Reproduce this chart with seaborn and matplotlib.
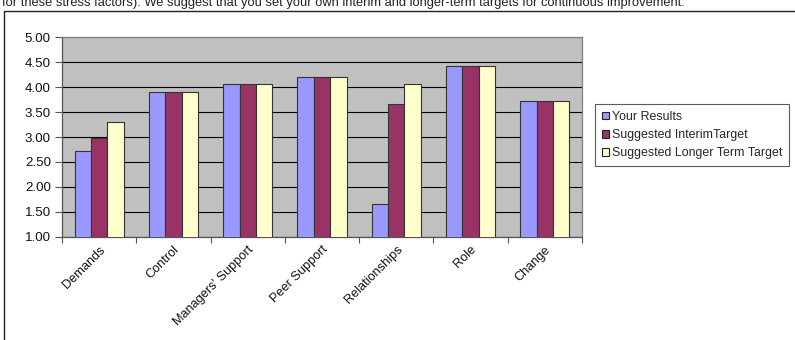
import matplotlib
matplotlib.use("Agg")
import matplotlib.pyplot as plt
from matplotlib.patches import Rectangle
from matplotlib.ticker import FormatStrFormatter, FixedLocator
import seaborn as sns
import pandas as pd

# Stress factor scores
categories = ["Demands", "Control", "Managers' Support", "Peer Support",
              "Relationships", "Role", "Change"]
your_results = [2.72, 3.90, 4.07, 4.20, 1.65, 4.43, 3.73]
interim_target = [2.98, 3.90, 4.07, 4.20, 3.66, 4.43, 3.73]
longer_term_target = [3.30, 3.90, 4.07, 4.20, 4.06, 4.43, 3.73]
series_names = ["Your Results", "Suggested InterimTarget",
                "Suggested Longer Term Target"]
colors = ["#9999FF", "#993366", "#FFFFCC"]
yticks = [1.0, 1.5, 2.0, 2.5, 3.0, 3.5, 4.0, 4.5, 5.0]

rows = []
for series, values in zip(series_names,
                          [your_results, interim_target, longer_term_target]):
    for cat, v in zip(categories, values):
        rows.append({"factor": cat, "score": v, "series": series})
df = pd.DataFrame(rows)

sns.set_theme(style="white")
plt.rcParams["font.family"] = ["Liberation Sans", "DejaVu Sans"]

fig = plt.figure(figsize=(7.95, 3.4), dpi=100)
fig.patch.set_facecolor("white")

# Frame around the chart object
fig.add_artist(Rectangle((4 / 795, -0.05), 1.1, (340 - 11) / 340 + 0.05,
                         transform=fig.transFigure, fill=False,
                         edgecolor="#222222", linewidth=1.0))

# Line of report text above the chart
fig.text(2 / 795, 1 - 6 / 340,
         "for these stress factors). We suggest that you set your own interim "
         "and longer-term targets for continuous improvement.",
         fontsize=9.3, color="#222222", ha="left", va="baseline")

ax = fig.add_axes([62 / 795, 1 - 236.7 / 340, 520 / 795, 199.4 / 340])
ax.set_facecolor("#C0C0C0")

sns.barplot(data=df, x="factor", y="score", hue="series", order=categories,
            hue_order=series_names, palette=colors, width=0.66, ax=ax,
            edgecolor="#333333", linewidth=0.8, saturation=1, zorder=3)

ax.set_ylim(1.0, 5.0)
ax.set_xlim(-0.5, len(categories) - 0.5)
ax.set_yticks(yticks)
ax.yaxis.set_major_formatter(FormatStrFormatter("%.2f"))
ax.yaxis.grid(True, color="black", linewidth=0.8, zorder=0)
ax.set_axisbelow(True)
ax.set_xlabel("")
ax.set_ylabel("")

ax.set_xticks(range(len(categories)))
ax.set_xticklabels(categories, rotation=45, ha="right",
                   rotation_mode="anchor", fontsize=9.2, color="#111111")
ax.xaxis.set_minor_locator(FixedLocator(
    [i - 0.5 for i in range(len(categories) + 1)]))
ax.tick_params(axis="x", which="major", length=0, pad=5)
ax.tick_params(axis="x", which="minor", length=4, width=0.8,
               color="#555555", bottom=True)
ax.tick_params(axis="y", which="major", length=5, width=0.8,
               color="#555555", left=True, labelsize=9.6,
               labelcolor="#111111", pad=3)

for side in ["left", "bottom"]:
    ax.spines[side].set_color("#555555")
    ax.spines[side].set_linewidth(0.9)
for side in ["top", "right"]:
    ax.spines[side].set_color("#808080")
    ax.spines[side].set_linewidth(0.9)

handles, labels = ax.get_legend_handles_labels()
ax.get_legend().remove()
leg = fig.legend(handles, labels, loc="upper left",
                 bbox_to_anchor=(595 / 795, 1 - 104 / 340),
                 frameon=True, fancybox=False, edgecolor="#333333",
                 fontsize=8.9, handlelength=0.6, handleheight=0.6,
                 handletextpad=0.2, labelspacing=0.5, borderpad=0.55,
                 borderaxespad=0)
leg.get_frame().set_linewidth(0.8)
for h in leg.legend_handles:
    h.set_edgecolor("#222222")
    h.set_linewidth(0.8)

fig.savefig("out.png", dpi=100, facecolor="white")
